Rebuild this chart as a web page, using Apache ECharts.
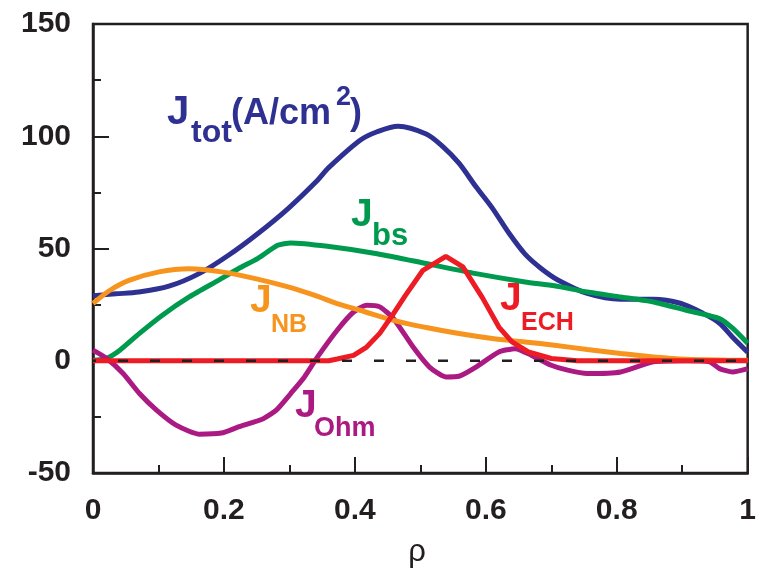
<!DOCTYPE html>
<html>
<head>
<meta charset="utf-8">
<script src="https://cdn.jsdelivr.net/npm/echarts@6/dist/echarts.min.js"></script>
<style>
  html, body { margin: 0; padding: 0; background: #fff; }
  #chart { width: 759px; height: 569px; }
</style>
</head>
<body>
<div id="chart"></div>
<script>
// Current density profiles versus normalized radius rho
const rhoTot = [0, 0.035, 0.07, 0.116, 0.162, 0.207, 0.252, 0.298, 0.343, 0.36, 0.408, 0.434, 0.466, 0.509, 0.534, 0.559, 0.585, 0.61, 0.635, 0.66, 0.685, 0.71, 0.755, 0.806, 0.856, 0.897, 0.932, 0.957, 0.977, 1];
const jTot   = [29, 29.8, 30.6, 33.2, 38.8, 47, 56.7, 67.8, 80.4, 86, 98.2, 102, 104.5, 101, 95.5, 88, 77.5, 68, 57, 47.5, 41, 36, 30, 27.4, 27.4, 25.6, 21.1, 16.7, 10.5, 3.8];

const rhoBs = [0, 0.02, 0.041, 0.071, 0.106, 0.147, 0.192, 0.222, 0.252, 0.282, 0.302, 0.358, 0.434, 0.509, 0.585, 0.66, 0.705, 0.755, 0.806, 0.856, 0.906, 0.957, 0.977, 1];
const jBs   = [0.2, 1, 4.7, 12.2, 20.3, 28.4, 35.9, 41, 45.6, 51.4, 52.5, 51, 47.7, 43.3, 38.8, 35.1, 33.4, 30.6, 28.4, 26.2, 22.5, 18.8, 14.5, 7.8];

const rhoNB = [0, 0.026, 0.056, 0.101, 0.147, 0.196, 0.248, 0.298, 0.338, 0.373, 0.408, 0.459, 0.509, 0.559, 0.61, 0.66, 0.705, 0.755, 0.806, 0.856, 0.906, 1];
const jNB   = [25.5, 31.4, 35.9, 39.6, 41, 39.6, 36.6, 32.9, 29.2, 25.5, 22.5, 18, 14.8, 12.1, 9.9, 8.4, 6.9, 5, 3.2, 1.7, 0.7, 0.2];

const rhoECH = [0, 0.36, 0.373, 0.398, 0.418, 0.438, 0.459, 0.477, 0.504, 0.539, 0.565, 0.595, 0.62, 0.64, 0.665, 0.70, 0.74, 1];
const jECH   = [0, 0, 0.8, 2.4, 6.1, 12.2, 21, 29, 40.3, 46.5, 41.8, 28, 15, 8.4, 3.9, 1, 0, 0];

const rhoOhm = [0, 0.021, 0.046, 0.071, 0.097, 0.127, 0.162, 0.196, 0.222, 0.26, 0.28, 0.302, 0.323, 0.343, 0.373, 0.398, 0.418, 0.438, 0.459, 0.489, 0.514, 0.539, 0.559, 0.585, 0.62, 0.645, 0.67, 0.70, 0.725, 0.755, 0.806, 0.856, 0.906, 0.942, 0.957, 0.977, 1];
const jOhm   = [4.7, 1, -5.7, -14.6, -22, -28.7, -32.7, -32.2, -29.5, -25.8, -22, -14.6, -7.2, 1.7, 13.6, 21.7, 24.7, 24, 18.8, 6.1, -2.8, -7.2, -6.9, -2.8, 3.9, 5.4, 2.4, -2, -4.2, -5.7, -5, -0.5, 0, -0.5, -3.5, -5, -3.5];

const zeroRho = [0, 1];
const zeroJ   = [0, 0];

const xTicks = { min: 0, max: 1, step: 0.2 };
const yTicks = { min: -50, max: 150, step: 50 };

const colors = {
  tot: '#2e3192',
  bs: '#009a4e',
  nb: '#f7941d',
  ech: '#ed1c24',
  ohm: '#ab1a82',
  axis: '#231f20'
};

const pairs = (xs, ys) => xs.map((x, i) => [x, ys[i]]);
const FONT = '"Liberation Sans", Arial, Helvetica, sans-serif';

function lineSeries(name, xs, ys, color, smooth, z) {
  return {
    name, type: 'line', data: pairs(xs, ys), showSymbol: false, smooth,
    z, lineStyle: { color, width: 5 }, silent: true, animation: false
  };
}

function txt(text, x, y, size, color) {
  return {
    type: 'text', x, y, silent: true,
    style: {
      text, fill: color, font: 'bold ' + size + 'px ' + FONT,
      align: 'left', verticalAlign: 'middle',
      textAlign: 'left', textVerticalAlign: 'middle'
    }
  };
}

const chart = echarts.init(document.getElementById('chart'), null, { renderer: 'canvas' });

chart.setOption({
  animation: false,
  backgroundColor: '#ffffff',
  grid: {
    left: 93, right: 4, top: 24, bottom: 96,
    show: true, borderColor: colors.axis, borderWidth: 2.5, backgroundColor: 'transparent'
  },
  xAxis: {
    type: 'value', min: xTicks.min, max: xTicks.max, interval: xTicks.step,
    axisLine: { show: true, onZero: false, lineStyle: { color: colors.axis, width: 2.5 } },
    axisTick: { show: true, inside: true, length: 16, lineStyle: { color: colors.axis, width: 2 } },
    minorTick: { show: true, splitNumber: 2, length: 8, lineStyle: { color: colors.axis, width: 2 } },
    splitLine: { show: false },
    minorSplitLine: { show: false },
    axisLabel: {
      color: colors.axis, fontFamily: FONT, fontWeight: 'bold', fontSize: 30, margin: 23,
      alignMinLabel: 'center', alignMaxLabel: 'center',
      formatter: v => (v === 0 || v === 1) ? String(v) : v.toFixed(1)
    }
  },
  yAxis: {
    type: 'value', min: yTicks.min, max: yTicks.max, interval: yTicks.step,
    axisLine: { show: true, onZero: false, lineStyle: { color: colors.axis, width: 2.5 } },
    axisTick: { show: true, inside: true, length: 16, lineStyle: { color: colors.axis, width: 2 } },
    minorTick: { show: true, splitNumber: 2, length: 8, lineStyle: { color: colors.axis, width: 2 } },
    splitLine: { show: false },
    minorSplitLine: { show: false },
    axisLabel: { color: colors.axis, fontFamily: FONT, fontWeight: 'bold', fontSize: 30, margin: 22 }
  },
  series: [
    lineSeries('Jtot', rhoTot, jTot, colors.tot, 0.3, 3),
    lineSeries('Jbs', rhoBs, jBs, colors.bs, 0.2, 4),
    lineSeries('JOhm', rhoOhm, jOhm, colors.ohm, 0.2, 5),
    lineSeries('JNB', rhoNB, jNB, colors.nb, 0.3, 6),
    lineSeries('JECH', rhoECH, jECH, colors.ech, false, 7),
    {
      name: 'zero', type: 'line', data: pairs(zeroRho, zeroJ), showSymbol: false, z: 8, silent: true,
      lineStyle: { color: colors.axis, width: 2.5, type: [10, 22], dashOffset: 7 }
    }
  ],
  graphic: [
    txt('J', 167, 113, 40, colors.tot),
    txt('tot', 191, 133, 32, colors.tot),
    txt('(A/cm', 231, 114, 36, colors.tot),
    txt('2', 336, 98, 27, colors.tot),
    txt(')', 350, 114, 36, colors.tot),

    txt('J', 351, 215, 39, colors.bs),
    txt('bs', 372, 236, 31, colors.bs),

    txt('J', 250, 301, 39, colors.nb),
    txt('NB', 271, 325.5, 25, colors.nb),

    txt('J', 295, 406.5, 39, colors.ohm),
    txt('Ohm', 314, 429, 27, colors.ohm),

    txt('J', 500, 299, 39, colors.ech),
    txt('ECH', 521, 323.5, 25, colors.ech),

    {
      type: 'text', x: 417, y: 552, silent: true,
      style: {
        text: 'ρ', fill: colors.axis, font: 'normal 31px ' + FONT,
        align: 'center', verticalAlign: 'middle',
        textAlign: 'center', textVerticalAlign: 'middle'
      }
    }
  ]
});
</script>
</body>
</html>
